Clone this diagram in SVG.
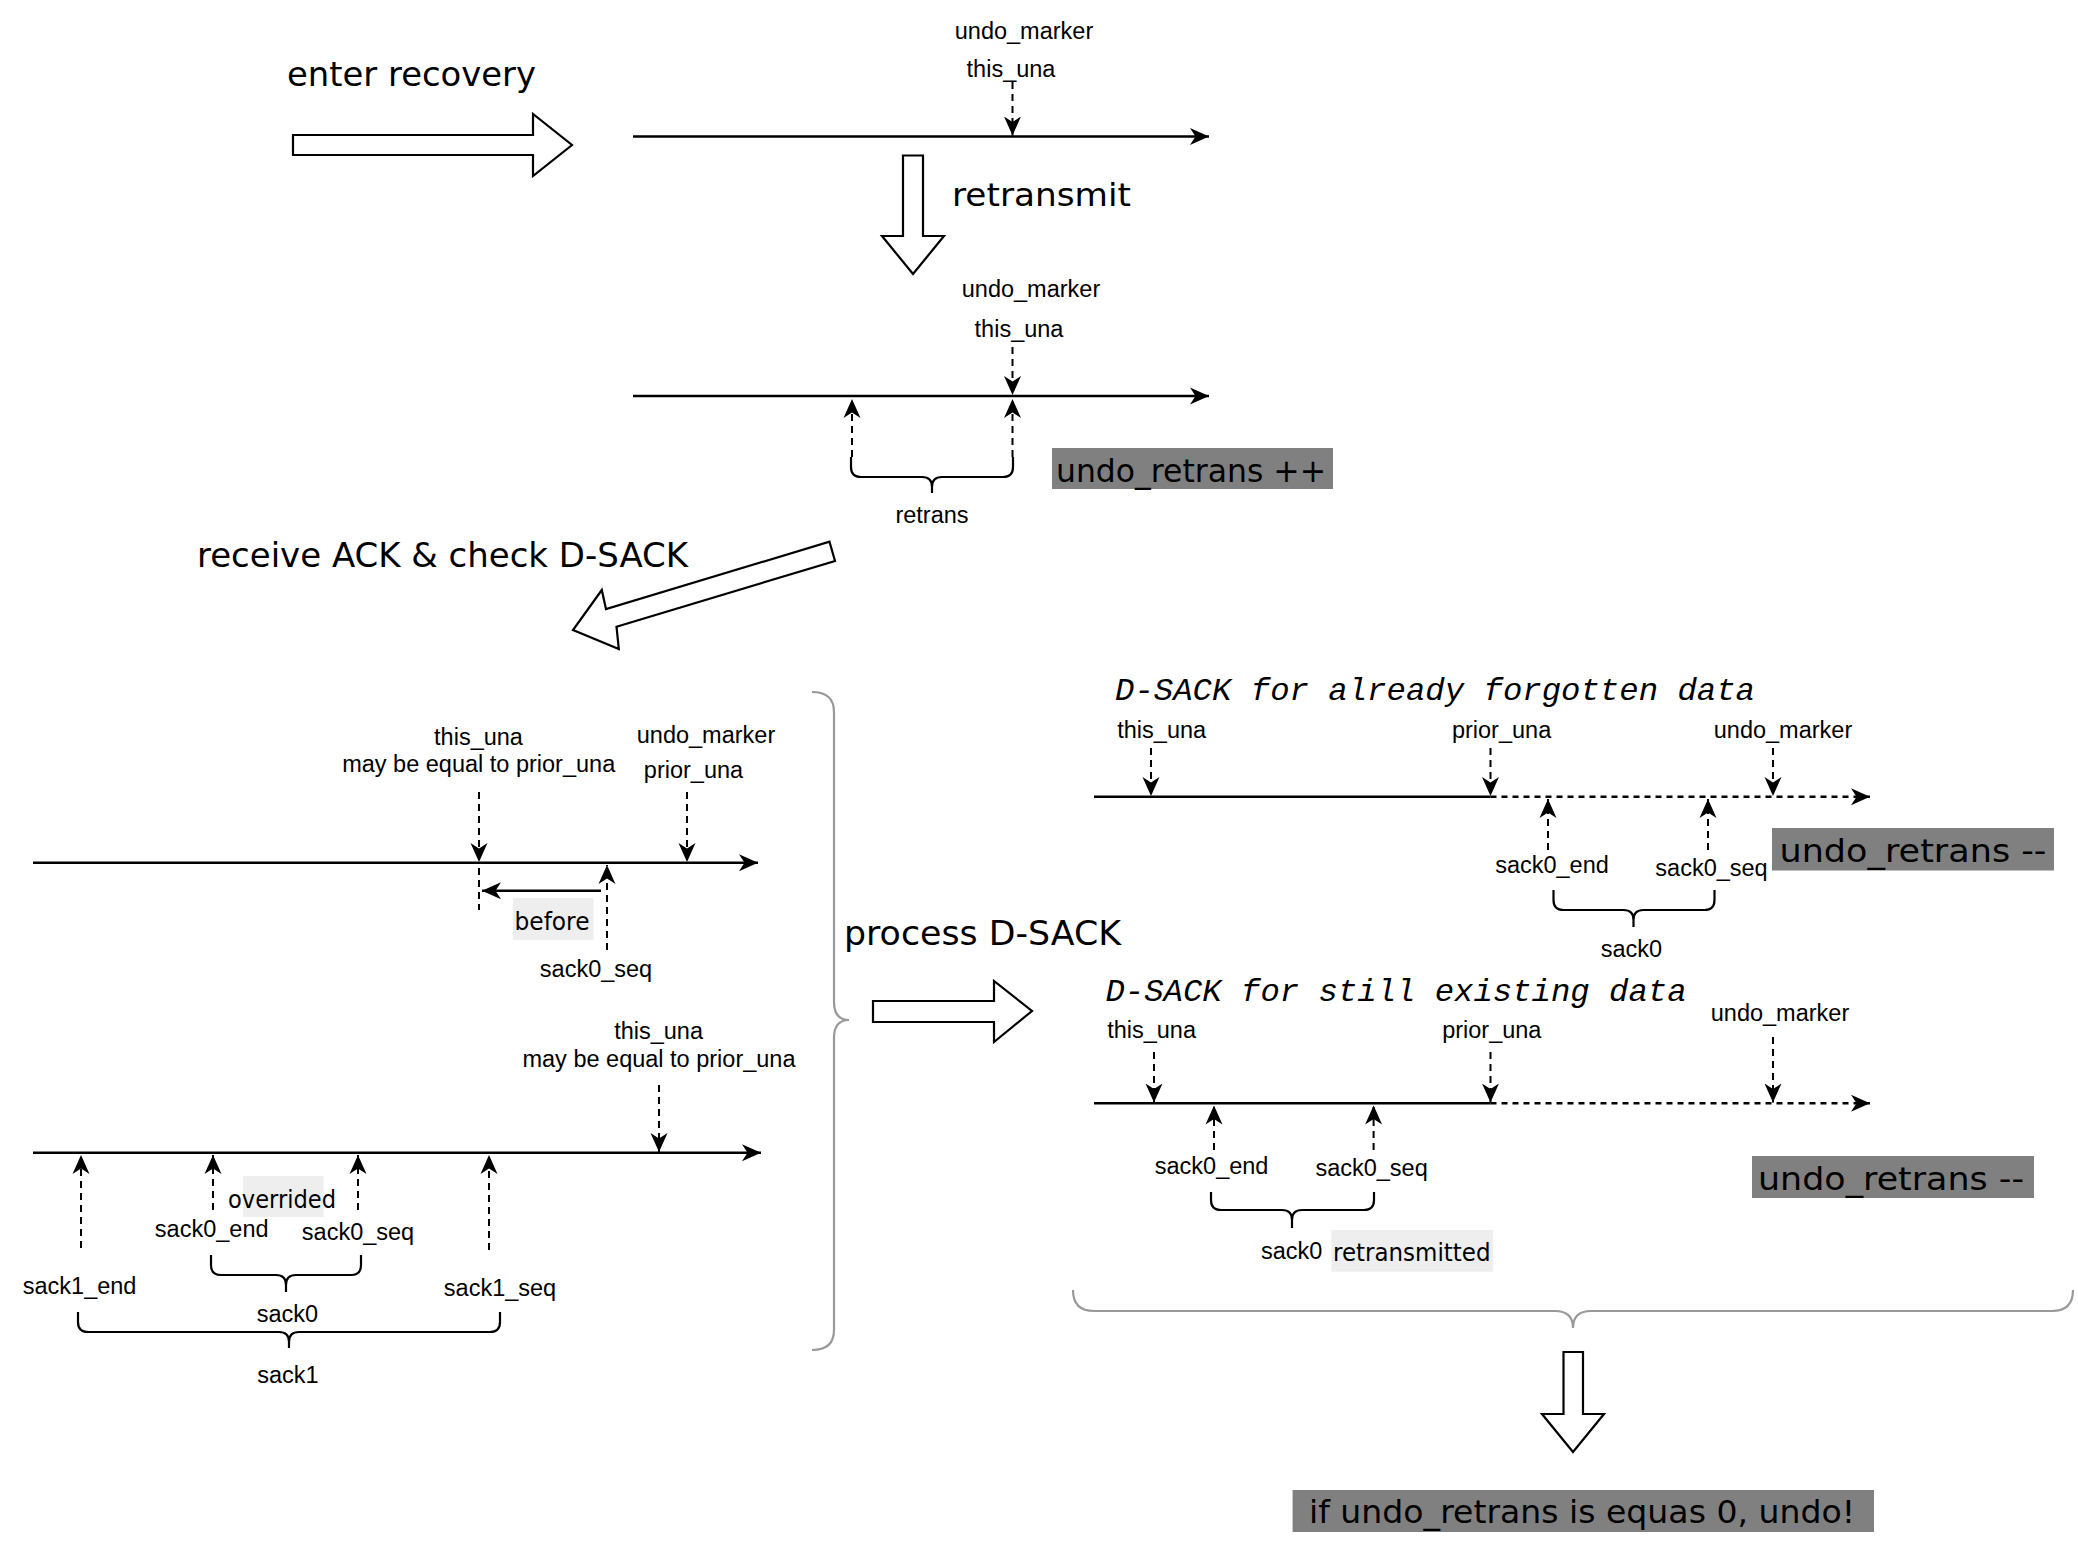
<svg xmlns="http://www.w3.org/2000/svg" width="2078" height="1568" viewBox="0 0 2078 1568">
<style>
.lbl{font-family:"Liberation Sans",Arial,sans-serif;font-size:23.5px;fill:#000;text-anchor:middle}
.cm{font-family:"DejaVu Sans","Noto Sans",sans-serif;fill:#000}
.mono{font-family:"Liberation Mono","Courier New",monospace;font-style:italic;font-size:32px;fill:#000}
.tl{stroke:#000;stroke-width:2.6;fill:none}
.tld{stroke:#000;stroke-width:2.6;fill:none;stroke-dasharray:6 5}
.da{stroke:#000;stroke-width:2;fill:none;stroke-dasharray:7 5}
.br{stroke:#000;stroke-width:2.2;fill:none}
.gbr{stroke:#999;stroke-width:2.2;fill:none}
.hol{stroke:#000;stroke-width:2.2;fill:#fff;stroke-linejoin:miter}
.gbox{fill:#808080}
.lbox{fill:#eeeeee}
</style>
<defs>
<marker id="arr" markerUnits="userSpaceOnUse" markerWidth="20" markerHeight="18" refX="19" refY="9" orient="auto" viewBox="0 0 20 18">
<path d="M0,0.5 L19,9 L0,17.5 L5.5,9 Z" fill="#000"/>
</marker>
</defs>
<rect width="2078" height="1568" fill="#fff"/>

<g id="connectors">
<line class="tl" x1="633" y1="136.5" x2="1209" y2="136.5" marker-end="url(#arr)"/>
<line class="da" x1="1012.5" y1="82" x2="1012.5" y2="135.5" marker-end="url(#arr)"/>
<line class="tl" x1="633" y1="396" x2="1209" y2="396" marker-end="url(#arr)"/>
<line class="da" x1="1012.5" y1="347" x2="1012.5" y2="395" marker-end="url(#arr)"/>
<line class="da" x1="852" y1="457" x2="852" y2="399" marker-end="url(#arr)"/>
<line class="da" x1="1012.5" y1="457" x2="1012.5" y2="399" marker-end="url(#arr)"/>
<line class="tl" x1="33" y1="862.7" x2="758" y2="862.7" marker-end="url(#arr)"/>
<line class="da" x1="479" y1="792" x2="479" y2="862" marker-end="url(#arr)"/>
<line class="da" x1="479" y1="868" x2="479" y2="910"/>
<line class="da" x1="687" y1="792" x2="687" y2="862" marker-end="url(#arr)"/>
<line class="da" x1="607" y1="950" x2="607" y2="865" marker-end="url(#arr)"/>
<line class="tl" x1="601" y1="890.7" x2="482" y2="890.7" marker-end="url(#arr)"/>
<line class="tl" x1="33" y1="1152.7" x2="761" y2="1152.7" marker-end="url(#arr)"/>
<line class="da" x1="659" y1="1085" x2="659" y2="1152" marker-end="url(#arr)"/>
<line class="da" x1="81" y1="1248" x2="81" y2="1155" marker-end="url(#arr)"/>
<line class="da" x1="213" y1="1210" x2="213" y2="1155" marker-end="url(#arr)"/>
<line class="da" x1="358" y1="1210" x2="358" y2="1155" marker-end="url(#arr)"/>
<line class="da" x1="489" y1="1250" x2="489" y2="1155" marker-end="url(#arr)"/>
<line class="tl" x1="1094" y1="796.7" x2="1490.5" y2="796.7"/>
<line class="tld" x1="1490.5" y1="796.7" x2="1870" y2="796.7" marker-end="url(#arr)"/>
<line class="da" x1="1151" y1="748" x2="1151" y2="796" marker-end="url(#arr)"/>
<line class="da" x1="1490.5" y1="748" x2="1490.5" y2="796" marker-end="url(#arr)"/>
<line class="da" x1="1773" y1="748" x2="1773" y2="796" marker-end="url(#arr)"/>
<line class="da" x1="1548" y1="850" x2="1548" y2="799" marker-end="url(#arr)"/>
<line class="da" x1="1708" y1="850" x2="1708" y2="799" marker-end="url(#arr)"/>
<line class="tl" x1="1094" y1="1103.3" x2="1490.5" y2="1103.3"/>
<line class="tld" x1="1490.5" y1="1103.3" x2="1870" y2="1103.3" marker-end="url(#arr)"/>
<line class="da" x1="1154" y1="1052" x2="1154" y2="1102.5" marker-end="url(#arr)"/>
<line class="da" x1="1490.5" y1="1052" x2="1490.5" y2="1102.5" marker-end="url(#arr)"/>
<line class="da" x1="1773" y1="1037" x2="1773" y2="1102.5" marker-end="url(#arr)"/>
<line class="da" x1="1214" y1="1150" x2="1214" y2="1105.5" marker-end="url(#arr)"/>
<line class="da" x1="1373.6" y1="1150" x2="1373.6" y2="1105.5" marker-end="url(#arr)"/>
</g>

<g id="braces">
<path id="brace-retrans" class="br" d="M851,457 L851,467 Q851,477 861,477 L922,477 Q932,477 932,487 L932,493 M932,487 Q932,477 942,477 L1003,477 Q1013,477 1013,467 L1013,457"/>
<path id="brace-sack0-B" class="br" d="M211,1255 L211,1265 Q211,1275 221,1275 L276,1275 Q286,1275 286,1285 L286,1292 M286,1285 Q286,1275 296,1275 L351,1275 Q361,1275 361,1265 L361,1255"/>
<path id="brace-sack1-B" class="br" d="M78,1312 L78,1322 Q78,1332 88,1332 L279,1332 Q289,1332 289,1342 L289,1348 M289,1342 Q289,1332 299,1332 L490,1332 Q500,1332 500,1322 L500,1312"/>
<path id="brace-sack0-C" class="br" d="M1553.5,890 L1553.5,900 Q1553.5,910 1563.5,910 L1623.5,910 Q1633.5,910 1633.5,920 L1633.5,927 M1633.5,920 Q1633.5,910 1643.5,910 L1704.5,910 Q1714.5,910 1714.5,900 L1714.5,890"/>
<path id="brace-sack0-D" class="br" d="M1211,1192 L1211,1200 Q1211,1210 1221,1210 L1282,1210 Q1292,1210 1292,1220 L1292,1228 M1292,1220 Q1292,1210 1302,1210 L1364,1210 Q1374,1210 1374,1200 L1374,1192"/>
<path id="brace-left" class="gbr" d="M812,692 Q834,692 834,712 L834,1002 Q834,1020 849,1020 Q834,1020 834,1038 L834,1330 Q834,1350 812,1350"/>
<path id="brace-bottom" class="gbr" d="M1073,1290 Q1073,1311 1094,1311 L1555,1311 Q1573,1311 1573,1328 Q1573,1311 1591,1311 L2052,1311 Q2073,1311 2073,1290"/>
</g>

<g id="flow-arrows">
<polygon id="arrow-enter" class="hol" points="293,135 533,135 533,114 572,145 533,176 533,155 293,155"/>
<polygon id="arrow-retransmit" class="hol" points="903,155.5 923,155.5 923,236 944,236 913,274 882,236 903,236"/>
<polygon id="arrow-receive" class="hol" points="829.5,541.7 835,561 616.5,626.7 618.8,649 573,630 601.8,590 606,609"/>
<polygon id="arrow-process" class="hol" points="873,1001 994,1001 994,981 1032,1011 994,1042 994,1022 873,1022"/>
<polygon id="arrow-final" class="hol" points="1563.5,1352 1583,1352 1583,1414 1604,1414 1573,1452 1542,1414 1563.5,1414"/>
</g>

<g id="step-labels">
<text class="cm" x="287" y="86" font-size="33" textLength="249" lengthAdjust="spacingAndGlyphs">enter recovery</text>
<text class="cm" x="952" y="206" font-size="32" textLength="179" lengthAdjust="spacingAndGlyphs">retransmit</text>
<text class="cm" x="197" y="567" font-size="33" textLength="491" lengthAdjust="spacingAndGlyphs">receive ACK &amp; check D-SACK</text>
<text class="cm" x="844" y="945" font-size="34" textLength="277" lengthAdjust="spacingAndGlyphs">process D-SACK</text>
</g>

<g id="timeline-top">
<text class="lbl" x="1024" y="39">undo_marker</text>
<text class="lbl" x="1011" y="77">this_una</text>
</g>

<g id="timeline-retrans">
<text class="lbl" x="1031" y="297">undo_marker</text>
<text class="lbl" x="1019" y="337">this_una</text>
<text class="lbl" x="932" y="523">retrans</text>
</g>

<g id="box-undo-inc">
<rect class="gbox" x="1052" y="448" width="281" height="41"/>
<text class="cm" x="1056" y="482" font-size="32" textLength="270" lengthAdjust="spacingAndGlyphs">undo_retrans ++</text>
</g>

<g id="timeline-A">
<text class="lbl" x="478.5" y="744.5">this_una</text>
<text class="lbl" x="478.7" y="772">may be equal to prior_una</text>
<text class="lbl" x="706" y="743">undo_marker</text>
<text class="lbl" x="693.5" y="778">prior_una</text>
<rect class="lbox" x="513" y="898" width="80.5" height="42"/>
<text class="cm" x="514.5" y="930" font-size="24" textLength="75" lengthAdjust="spacingAndGlyphs">before</text>
<text class="lbl" x="596" y="977">sack0_seq</text>
</g>

<g id="timeline-B">
<text class="lbl" x="658.6" y="1039">this_una</text>
<text class="lbl" x="659" y="1067">may be equal to prior_una</text>
<rect class="lbox" x="243" y="1176" width="80.5" height="41"/>
<text class="cm" x="228" y="1208" font-size="24" textLength="108" lengthAdjust="spacingAndGlyphs">overrided</text>
<text class="lbl" x="211.7" y="1237">sack0_end</text>
<text class="lbl" x="358" y="1240">sack0_seq</text>
<text class="lbl" x="79.6" y="1294">sack1_end</text>
<text class="lbl" x="500" y="1296">sack1_seq</text>
<text class="lbl" x="287.4" y="1322">sack0</text>
<text class="lbl" x="288" y="1383">sack1</text>
</g>

<g id="timeline-C">
<text class="mono" x="1115" y="700" textLength="640" lengthAdjust="spacingAndGlyphs">D-SACK for already forgotten data</text>
<text class="lbl" x="1161.7" y="738">this_una</text>
<text class="lbl" x="1501.6" y="738">prior_una</text>
<text class="lbl" x="1783" y="738">undo_marker</text>
<text class="lbl" x="1552" y="873">sack0_end</text>
<text class="lbl" x="1711.5" y="876">sack0_seq</text>
<text class="lbl" x="1631.4" y="957">sack0</text>
</g>

<g id="box-undo-dec-1">
<rect class="gbox" x="1772" y="828" width="282" height="42.5"/>
<text class="cm" x="1779.5" y="862" font-size="32" textLength="267" lengthAdjust="spacingAndGlyphs">undo_retrans --</text>
</g>

<g id="timeline-D">
<text class="mono" x="1105.5" y="1001" textLength="581" lengthAdjust="spacingAndGlyphs">D-SACK for still existing data</text>
<text class="lbl" x="1151.6" y="1038">this_una</text>
<text class="lbl" x="1491.8" y="1038">prior_una</text>
<text class="lbl" x="1780" y="1021">undo_marker</text>
<text class="lbl" x="1211.6" y="1174">sack0_end</text>
<text class="lbl" x="1371.6" y="1176">sack0_seq</text>
<text class="lbl" x="1291.7" y="1259">sack0</text>
<rect class="lbox" x="1331.4" y="1230" width="161.6" height="41.7"/>
<text class="cm" x="1333" y="1261" font-size="24" textLength="157.5" lengthAdjust="spacingAndGlyphs">retransmitted</text>
</g>

<g id="box-undo-dec-2">
<rect class="gbox" x="1752" y="1156" width="282" height="42"/>
<text class="cm" x="1758" y="1190" font-size="32" textLength="266" lengthAdjust="spacingAndGlyphs">undo_retrans --</text>
</g>

<g id="box-final">
<rect class="gbox" x="1292.6" y="1490" width="581.4" height="42"/>
<text class="cm" x="1309" y="1523" font-size="32" textLength="546" lengthAdjust="spacingAndGlyphs">if undo_retrans is equas 0, undo!</text>
</g>
</svg>
